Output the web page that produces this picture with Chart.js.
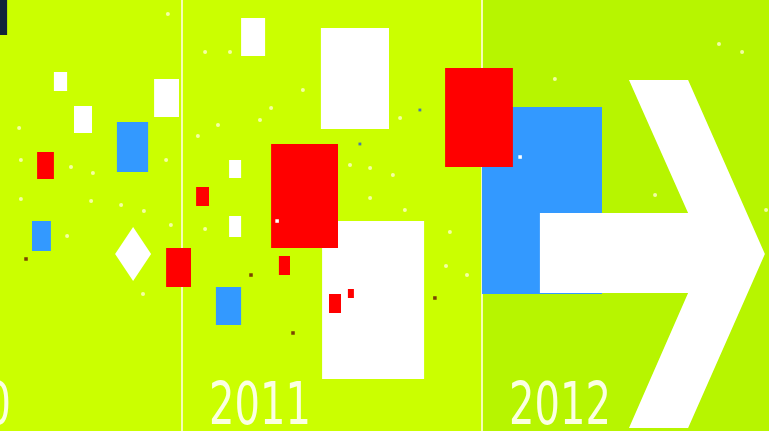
<!DOCTYPE html>
<html><head><meta charset="utf-8">
<script src="https://cdn.jsdelivr.net/npm/chart.js@4.4.1/dist/chart.umd.min.js"></script>
<style>html,body{margin:0;padding:0;background:#cbff00;overflow:hidden}#wrap{width:769px;height:431px}</style>
</head><body><div id="wrap"><canvas id="c" width="769" height="431"></canvas></div>
<script>
// ---- data (x in years, y in % of height) ----
const yearLabels = ['2010', '2011', '2012'];
const yearValues = [2010, 2011, 2012];
const gridYears = [2011, 2012];

// rectangles: [xStart, xEnd, yTop, yBottom]
const whiteRects = [
  [2010.573, 2010.617, 83.29, 78.89],
  [2010.640, 2010.700, 75.41, 69.14],
  [2010.907, 2010.990, 81.67, 72.85],
  [2011.197, 2011.277, 95.82, 87.01],
  [2011.157, 2011.197, 62.88, 58.70],
  [2011.157, 2011.197, 49.88, 45.01],
  [2011.463, 2011.690, 93.50, 70.07],
  [2011.467, 2011.807, 48.72, 12.06]
];
const blueRects = [
  [2010.783, 2010.887, 71.69, 60.09],
  [2010.500, 2010.563, 48.72, 41.76],
  [2011.113, 2011.197, 33.41, 24.59],
  [2012.000, 2012.400, 75.17, 31.79]
];
const redRects = [
  [2010.517, 2010.573, 64.73, 58.47],
  [2010.947, 2011.030, 42.46, 33.41],
  [2011.047, 2011.090, 56.61, 52.20],
  [2011.297, 2011.520, 66.59, 42.46],
  [2011.323, 2011.360, 40.60, 36.19],
  [2011.490, 2011.530, 31.79, 27.38],
  [2011.553, 2011.573, 32.95, 30.86],
  [2011.877, 2012.103, 84.22, 61.25]
];
const darkRects = [
  [2010.380, 2010.417, 101, 91.88]
];
// arrow outline (x, y pairs)
const arrowX = [2012.193, 2012.687, 2012.490, 2012.687, 2012.943, 2012.687, 2012.490, 2012.687, 2012.193];
const arrowY = [50.58, 50.58, 81.44, 81.44, 41.07, 0.70, 0.70, 32.02, 32.02];
// diamond outline
const diamondX = [2010.777, 2010.837, 2010.897, 2010.837];
const diamondY = [41.07, 47.33, 41.07, 34.80];

// small pale dots
const paleDotX = [2010.953, 2010.457, 2010.463, 2010.630, 2010.703, 2010.947, 2010.463, 2010.697, 2010.797, 2010.873,
  2011.077, 2011.160, 2011.120, 2011.053, 2010.617, 2010.870, 2010.963, 2011.077, 2011.403, 2011.297,
  2011.260, 2011.727, 2011.560, 2011.627, 2011.703, 2011.627, 2011.743, 2011.893, 2011.880, 2011.950,
  2012.790, 2012.867, 2012.243, 2012.577, 2012.947];
const paleDotY = [96.75, 70.30, 62.88, 61.25, 59.86, 62.88, 53.83, 53.36, 52.44, 51.04,
  87.94, 87.94, 71.00, 68.45, 45.24, 31.79, 47.80, 46.87, 79.12, 74.94,
  72.16, 72.62, 61.72, 61.02, 59.40, 54.06, 51.28, 46.17, 38.28, 36.19,
  89.79, 87.94, 81.67, 54.76, 51.28];
const whiteDotX = [2011.317, 2012.127];
const whiteDotY = [48.72, 63.57];
const brownDotX = [2010.480, 2011.230, 2011.370, 2011.843];
const brownDotY = [39.91, 36.19, 22.74, 30.86];
const slateDotX = [2011.593, 2011.793];
const slateDotY = [66.59, 74.48];

// ---- build datasets ----
const COLORS = { white: '#ffffff', blue: '#3399ff', red: '#ff0000', dark: '#12263a' };
function rectPts(r) { return [{x:r[0],y:r[2]},{x:r[1],y:r[2]},{x:r[1],y:r[3]},{x:r[0],y:r[3]}]; }
function zipPts(xs, ys) { return xs.map((x, i) => ({x, y: ys[i]})); }
function shape(points, color, order) {
  return { data: points, showLine: true, fill: 'shape', backgroundColor: color,
    borderColor: 'rgba(0,0,0,0)', borderWidth: 0, pointRadius: 0, order };
}
const datasets = [];
whiteRects.forEach(r => datasets.push(shape(rectPts(r), COLORS.white, 50)));
blueRects.forEach(r => datasets.push(shape(rectPts(r), COLORS.blue, 40)));
redRects.forEach(r => datasets.push(shape(rectPts(r), COLORS.red, 30)));
darkRects.forEach(r => datasets.push(shape(rectPts(r), COLORS.dark, 20)));
datasets.push(shape(zipPts(arrowX, arrowY), COLORS.white, 20));
datasets.push(shape(zipPts(diamondX, diamondY), COLORS.white, 20));
datasets.push({ data: zipPts(paleDotX, paleDotY), pointStyle: 'circle', pointRadius: 2,
  backgroundColor: 'rgba(255,255,205,0.8)', borderWidth: 0, order: 10 });
datasets.push({ data: zipPts(whiteDotX, whiteDotY), pointStyle: 'rect', pointRadius: 2.5,
  backgroundColor: '#ffffff', borderWidth: 0, order: 5 });
datasets.push({ data: zipPts(brownDotX, brownDotY), pointStyle: 'rect', pointRadius: 2.5,
  backgroundColor: '#7a4400', borderWidth: 0, order: 5 });
datasets.push({ data: zipPts(slateDotX, slateDotY), pointStyle: 'rect', pointRadius: 2,
  backgroundColor: '#4a7aa8', borderWidth: 0, order: 5 });

const bgPlugin = {
  id: 'panelBg',
  beforeDraw(chart) {
    const {ctx, width, height, scales: {x}} = chart;
    ctx.save();
    ctx.fillStyle = '#cbff00';
    ctx.fillRect(0, 0, width, height);
    const p = x.getPixelForValue(2012);
    ctx.fillStyle = '#b7f500';
    ctx.fillRect(p, 0, width - p, height);
    ctx.restore();
  }
};
const yearPlugin = {
  id: 'yearLabels',
  afterDatasetsDraw(chart) {
    const {ctx, chartArea, scales: {x}} = chart;
    ctx.save();
    ctx.fillStyle = '#fbffe2';
    ctx.font = '58px "DejaVu Sans"';
    ctx.textBaseline = 'alphabetic';
    ctx.textAlign = 'left';
    yearValues.forEach((v, i) => {
      ctx.save();
      ctx.translate(x.getPixelForValue(v) + 27, chartArea.bottom - 7);
      ctx.scale(0.69, 1);
      ctx.fillText(yearLabels[i], 0, 0);
      ctx.restore();
    });
    ctx.restore();
  }
};

new Chart(document.getElementById('c'), {
  type: 'scatter',
  data: { datasets },
  options: {
    responsive: false,
    animation: false,
    events: [],
    layout: { padding: 0, autoPadding: false },
    plugins: { legend: { display: false }, tooltip: { enabled: false } },
    scales: {
      x: {
        type: 'linear', min: 2010.3933, max: 2012.9567, display: true,
        afterBuildTicks(axis) { axis.ticks = gridYears.map(v => ({ value: v })); },
        ticks: { display: false },
        grid: { color: '#f4fdb4', lineWidth: 2, drawTicks: false },
        border: { display: false }
      },
      y: { type: 'linear', min: 0, max: 100, display: false }
    }
  },
  plugins: [bgPlugin, yearPlugin]
});
</script>
</body></html>
